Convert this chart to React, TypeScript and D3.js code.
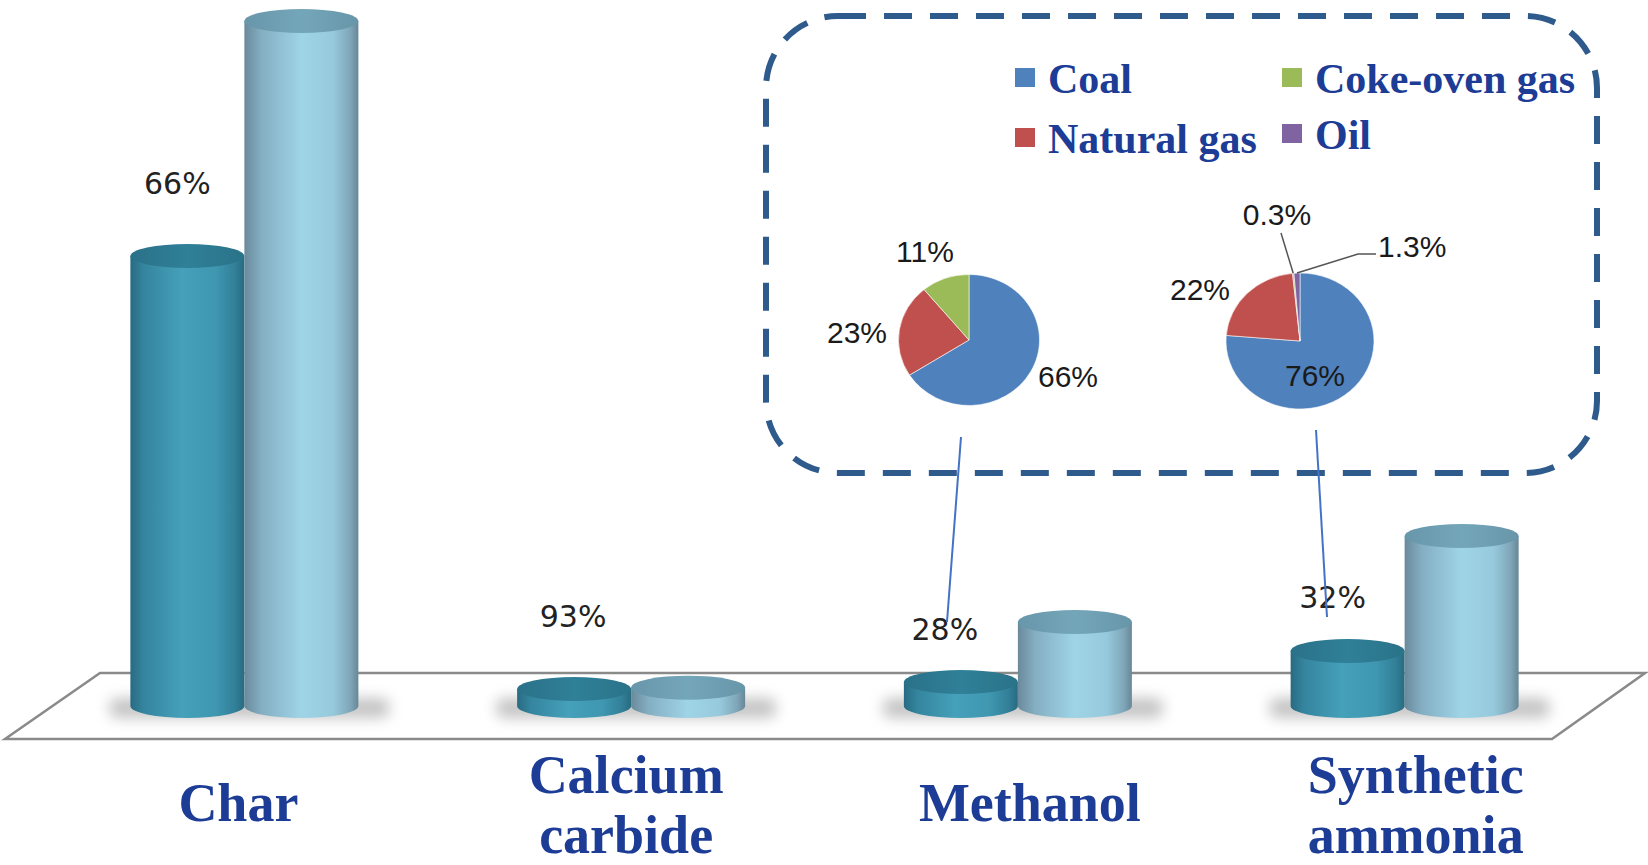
import React from "react";
import * as d3 from "d3";

// ---------- data ----------
const categories = ["Char", "Calcium carbide", "Methanol", "Synthetic ammonia"];
const categoryLines = [["Char"], ["Calcium", "carbide"], ["Methanol"], ["Synthetic", "ammonia"]];
const seriesNames = ["China", "World"];
const chinaOutput = [450, 17, 24, 55];
const worldOutput = [685, 18.3, 84, 170];
const chinaShareLabels = ["66%", "93%", "28%", "32%"];

const feedstocks = ["Coal", "Natural gas", "Coke-oven gas", "Oil"];
const feedColors = ["#4f81bd", "#c0504d", "#9bbb59", "#8064a2"];
const methanolFeedShares = [66, 23, 11, 0];
const methanolFeedLabels = ["66%", "23%", "11%", ""];
const ammoniaFeedShares = [76, 22, 0.3, 1.3];
const ammoniaFeedLabels = ["76%", "22%", "0.3%", "1.3%"];

// ---------- layout ----------
const W = 1648;
const H = 865;
const BASE_Y = 706;
const RY = 12;
const TEXT_BLUE = "#1c3c96";

// nudges of the share labels relative to the China cylinder top
const shareLabelNudge = [
  { dx: -10, dy: 62 },
  { dx: -1, dy: 62 },
  { dx: -16, dy: 42 },
  { dx: -15, dy: 43 },
];
// horizontal nudges of the category labels
const categoryLabelDx = [-6, -5, 12, 11];

const legendPos = [
  { x: 1015, y: 68 },
  { x: 1015, y: 128 },
  { x: 1282, y: 68 },
  { x: 1282, y: 124 },
];

type PieCfg = {
  category: string;
  shares: number[];
  labels: string[];
  cx: number;
  cy: number;
  rx: number;
  ry: number;
  labelPos: ({ x: number; y: number; anchor: string } | null)[];
  leaders: (number[][] | null)[];
  connector: number[][];
};

const pies: PieCfg[] = [
  {
    category: "Methanol",
    shares: methanolFeedShares,
    labels: methanolFeedLabels,
    cx: 969,
    cy: 340,
    rx: 70.5,
    ry: 65.5,
    labelPos: [
      { x: 1068, y: 387, anchor: "middle" },
      { x: 857, y: 343, anchor: "middle" },
      { x: 925, y: 262, anchor: "middle" },
      null,
    ],
    leaders: [null, null, null, null],
    connector: [
      [961, 437],
      [947, 622],
    ],
  },
  {
    category: "Synthetic ammonia",
    shares: ammoniaFeedShares,
    labels: ammoniaFeedLabels,
    cx: 1300,
    cy: 341,
    rx: 74,
    ry: 68,
    labelPos: [
      { x: 1315, y: 386, anchor: "middle" },
      { x: 1200, y: 300, anchor: "middle" },
      { x: 1277, y: 225, anchor: "middle" },
      { x: 1378, y: 257, anchor: "start" },
    ],
    leaders: [
      null,
      null,
      [[1281, 233]],
      [
        [1358, 254],
        [1376, 254],
      ],
    ],
    connector: [
      [1316, 430],
      [1327, 617],
    ],
  },
];

function Cylinder(props: {
  cx: number;
  w: number;
  height: number;
  sideId: string;
  topId: string;
}) {
  const { cx, w, height, sideId, topId } = props;
  const rx = w / 2;
  const x0 = cx - rx;
  const x1 = cx + rx;
  const top = BASE_Y - height;
  const side = `M${x0},${top} L${x0},${BASE_Y} A${rx},${RY} 0 0 0 ${x1},${BASE_Y} L${x1},${top} Z`;
  return (
    <g>
      <path d={side} fill={`url(#${sideId})`} />
      <ellipse cx={cx} cy={top} rx={rx} ry={RY} fill={`url(#${topId})`} />
    </g>
  );
}

export default function App() {
  const x = d3.scaleBand<string>().domain(categories).range([51, 1598]);
  const xs = d3.scaleBand<string>().domain(seriesNames).range([-114, 114]);
  const h = d3.scaleLinear().domain([0, 700]).range([0, 700]);

  const floorPts: [number, number][] = [
    [100, 673],
    [1645, 673],
    [1552, 739],
    [5, 739],
  ];
  const floorPath = (d3.line()(floorPts) || "") + "Z";

  const pieGen = d3
    .pie<number>()
    .sort(null)
    .value((d) => d);

  return (
    <svg
      width={W}
      height={H}
      viewBox={`0 0 ${W} ${H}`}
      style={{ position: "absolute", left: 0, top: 0, display: "block", background: "#fff" }}
    >
      <defs>
        <linearGradient id="sideChina" x1="0" x2="1" y1="0" y2="0">
          <stop offset="0" stopColor="#286b82" />
          <stop offset="0.12" stopColor="#35859f" />
          <stop offset="0.45" stopColor="#45a0b9" />
          <stop offset="0.75" stopColor="#3f97b0" />
          <stop offset="0.92" stopColor="#327f98" />
          <stop offset="1" stopColor="#286b80" />
        </linearGradient>
        <linearGradient id="topChina" x1="0" x2="1" y1="0" y2="0">
          <stop offset="0" stopColor="#2a7189" />
          <stop offset="0.5" stopColor="#2f8098" />
          <stop offset="1" stopColor="#2a7389" />
        </linearGradient>
        <linearGradient id="sideWorld" x1="0" x2="1" y1="0" y2="0">
          <stop offset="0" stopColor="#6a8a9b" />
          <stop offset="0.15" stopColor="#84aec2" />
          <stop offset="0.5" stopColor="#9fd4e7" />
          <stop offset="0.78" stopColor="#96c9dc" />
          <stop offset="0.93" stopColor="#7fa6b8" />
          <stop offset="1" stopColor="#678797" />
        </linearGradient>
        <linearGradient id="topWorld" x1="0" x2="1" y1="0" y2="0">
          <stop offset="0" stopColor="#6896aa" />
          <stop offset="0.5" stopColor="#74a6ba" />
          <stop offset="1" stopColor="#6896a9" />
        </linearGradient>
        <filter id="shadowBlur" x="-50%" y="-100%" width="200%" height="300%">
          <feGaussianBlur stdDeviation="7" />
        </filter>
      </defs>

      {/* floor */}
      <path d={floorPath} fill="#fff" stroke="#8a8a8a" strokeWidth={2.5} />

      {/* shadows */}
      {categories.map((c) => {
        const cx = (x(c) as number) + x.bandwidth() / 2;
        return (
          <rect
            key={"sh" + c}
            x={cx - 135}
            y={BASE_Y - 8}
            width={280}
            height={20}
            rx={8}
            fill="#8a8a8a"
            opacity={0.5}
            filter="url(#shadowBlur)"
          />
        );
      })}

      {/* cylinders */}
      {categories.map((c, i) => {
        const cx = (x(c) as number) + x.bandwidth() / 2;
        const vals = [chinaOutput[i], worldOutput[i]];
        return (
          <g key={"cy" + c}>
            {seriesNames.map((s, j) => (
              <Cylinder
                key={s}
                cx={cx + (xs(s) as number) + xs.bandwidth() / 2}
                w={xs.bandwidth()}
                height={h(vals[j])}
                sideId={j === 0 ? "sideChina" : "sideWorld"}
                topId={j === 0 ? "topChina" : "topWorld"}
              />
            ))}
          </g>
        );
      })}

      {/* share labels */}
      {categories.map((c, i) => {
        const cx = (x(c) as number) + x.bandwidth() / 2 + (xs("China") as number) + xs.bandwidth() / 2;
        const top = BASE_Y - h(chinaOutput[i]);
        return (
          <text
            key={"lb" + c}
            x={cx + shareLabelNudge[i].dx}
            y={top - shareLabelNudge[i].dy}
            textAnchor="middle"
            fontFamily="'DejaVu Sans', Verdana, sans-serif"
            fontSize={30}
            fill="#222"
          >
            {chinaShareLabels[i]}
          </text>
        );
      })}

      {/* category labels */}
      {categories.map((c, i) => {
        const cx = (x(c) as number) + x.bandwidth() / 2 + categoryLabelDx[i];
        const lines = categoryLines[i];
        const baselines = lines.length === 1 ? [821] : [793, 853];
        return (
          <g key={"cat" + c}>
            {lines.map((ln, k) => (
              <text
                key={k}
                x={cx}
                y={baselines[k]}
                textAnchor="middle"
                fontFamily="'Liberation Serif', 'Times New Roman', serif"
                fontWeight="bold"
                fontSize={54}
                fill={TEXT_BLUE}
              >
                {ln}
              </text>
            ))}
          </g>
        );
      })}

      {/* dashed callout box */}
      <rect
        x={766}
        y={16}
        width={831}
        height={457}
        rx={72}
        ry={72}
        fill="none"
        stroke="#2e5a8c"
        strokeWidth={6}
        strokeDasharray="28 18"
      />

      {/* legend */}
      {feedstocks.map((f, i) => (
        <g key={"lg" + f}>
          <rect x={legendPos[i].x} y={legendPos[i].y} width={20} height={19} fill={feedColors[i]} />
          <text
            x={legendPos[i].x + 33}
            y={legendPos[i].y + 25}
            fontFamily="'Liberation Serif', 'Times New Roman', serif"
            fontWeight="bold"
            fontSize={42}
            fill={TEXT_BLUE}
          >
            {f}
          </text>
        </g>
      ))}

      {/* pies */}
      {pies.map((p) => {
        const arcs = pieGen(p.shares);
        const arcGen = d3
          .arc<d3.PieArcDatum<number>>()
          .innerRadius(0)
          .outerRadius(p.rx);
        const edge = d3
          .arc<d3.PieArcDatum<number>>()
          .innerRadius(p.rx)
          .outerRadius(p.rx);
        const sy = p.ry / p.rx;
        return (
          <g key={"pie" + p.category}>
            <g transform={`translate(${p.cx},${p.cy}) scale(1,${sy})`}>
              {arcs.map((a, i) =>
                a.value > 0 ? (
                  <path key={i} d={arcGen(a) || ""} fill={feedColors[i]} stroke="#fff" strokeWidth={0.6} />
                ) : null
              )}
            </g>
            {arcs.map((a, i) => {
              const lead = p.leaders[i];
              if (!lead || a.value <= 0) return null;
              const [ex, ey] = edge.centroid(a);
              const pts: [number, number][] = [[p.cx + ex, p.cy + ey * sy], ...(lead as [number, number][])];
              return (
                <path key={"ld" + i} d={d3.line()(pts) || ""} fill="none" stroke="#555" strokeWidth={1.5} />
              );
            })}
            {p.labels.map((l, i) =>
              l && p.labelPos[i] ? (
                <text
                  key={"pl" + i}
                  x={p.labelPos[i]!.x}
                  y={p.labelPos[i]!.y}
                  textAnchor={p.labelPos[i]!.anchor as any}
                  fontFamily="'Liberation Sans', Arial, sans-serif"
                  fontSize={30}
                  fill="#1a1a1a"
                >
                  {l}
                </text>
              ) : null
            )}
            <path d={d3.line()(p.connector as [number, number][]) || ""} stroke="#4472c4" strokeWidth={2} fill="none" />
          </g>
        );
      })}
    </svg>
  );
}
